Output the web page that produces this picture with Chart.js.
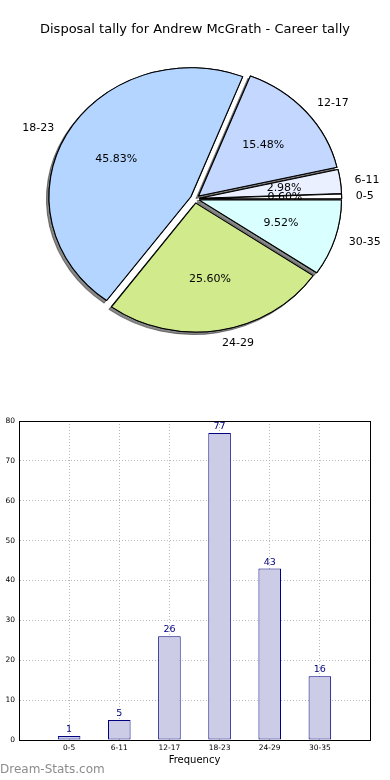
<!DOCTYPE html>
<html>
<head>
<meta charset="utf-8">
<script src="https://cdn.jsdelivr.net/npm/chart.js@4/dist/chart.umd.min.js"></script>
<style>
  html, body { margin: 0; padding: 0; background: #fff; }
  body { width: 390px; height: 780px; position: relative; overflow: hidden; }
  #pie { position: absolute; left: 0; top: 0; }
  #bar { position: absolute; left: 0; top: 400px; }
  .mark { position: absolute; left: 0; top: 762px; font: 12px "DejaVu Sans", sans-serif; color: #8c8c8c; }
</style>
</head>
<body>
<canvas id="pie" width="390" height="400"></canvas>
<canvas id="bar" width="390" height="380"></canvas>
<div class="mark">Dream-Stats.com</div>
<script>
const groups = ["0-5", "6-11", "12-17", "18-23", "24-29", "30-35"];
const tally = [1, 5, 26, 77, 43, 16];
const sliceColors = ["#ffffff", "#eaf0ff", "#c4d8ff", "#b3d5ff", "#d0ea8c", "#d9ffff"];

Chart.defaults.font.family = "'DejaVu Sans', sans-serif";
Chart.defaults.color = "#000";

const STRETCH = 1.1; // the original pie is a bit wider than tall
const EXPLODE = 4.3; // every slice pulled out a little

const total = tally.reduce((a, b) => a + b, 0);

// pie look: explode, oval, shadow, labels
const pieLook = {
  id: "pieLook",
  afterUpdate(chart) {
    const a = chart.chartArea;
    const cx = (a.left + a.right) / 2, cy = (a.top + a.bottom) / 2;
    chart.getDatasetMeta(0).data.forEach((arc) => {
      const mid = (arc.startAngle + arc.endAngle) / 2;
      arc.x = cx + Math.cos(mid) * EXPLODE;
      arc.y = cy + Math.sin(mid) * EXPLODE;
    });
  },
  beforeDatasetsDraw(chart) {
    const ctx = chart.ctx, a = chart.chartArea;
    const cx = (a.left + a.right) / 2, cy = (a.top + a.bottom) / 2;
    ctx.save();
    ctx.translate(cx, cy);
    ctx.scale(STRETCH, 1);
    ctx.translate(-cx, -cy);
    // shadow pass first, then the normal draw covers the inner part
    ctx.save();
    ctx.shadowColor = "rgba(40,40,40,0.55)";
    ctx.shadowOffsetX = -2.5;
    ctx.shadowOffsetY = 2.5;
    ctx.shadowBlur = 0;
    chart.getDatasetMeta(0).data.forEach((arc) => arc.draw(ctx));
    ctx.restore();
  },
  afterDatasetsDraw(chart) {
    const ctx = chart.ctx, a = chart.chartArea;
    ctx.restore();
    const cx = (a.left + a.right) / 2;
    const ds = chart.data.datasets[0];
    ctx.save();
    ctx.font = "11px 'DejaVu Sans'";
    ctx.fillStyle = "#000";
    ctx.textBaseline = "middle";
    chart.getDatasetMeta(0).data.forEach((arc, i) => {
      const mid = (arc.startAngle + arc.endAngle) / 2;
      const cos = Math.cos(mid), sin = Math.sin(mid);
      const ox = cx + (arc.x - cx) * STRETCH, oy = arc.y;
      const r = arc.outerRadius;
      const pct = (ds.data[i] / total * 100).toFixed(2) + "%";
      ctx.textAlign = "center";
      ctx.fillText(pct, ox + cos * 0.6 * r * STRETCH, oy + sin * 0.6 * r);
      ctx.textAlign = cos >= 0 ? "left" : "right";
      ctx.fillText(chart.data.labels[i], ox + cos * 1.1 * r * STRETCH, oy + sin * 1.1 * r);
    });
    ctx.restore();
  },
};

// matplotlib goes counter-clockwise from 3 o'clock, chart.js clockwise -> reverse
const pieChart = new Chart(document.getElementById("pie").getContext("2d"), {
  type: "pie",
  data: {
    labels: groups.slice().reverse(),
    datasets: [
      {
        data: tally.slice().reverse(),
        backgroundColor: sliceColors.slice().reverse(),
        borderColor: "#000",
        borderWidth: 1,
        borderJoinStyle: "round",
      },
    ],
  },
  options: {
    responsive: false,
    animation: false,
    events: [],
    rotation: 90,
    radius: 129,
    layout: { padding: { bottom: 47 } },
    plugins: {
      legend: { display: false },
      tooltip: { enabled: false },
      title: {
        display: true,
        text: "Disposal tally for Andrew McGrath - Career tally",
        font: { size: 13, weight: "normal" },
        color: "#000",
        padding: { top: 22, bottom: 7 },
      },
    },
  },
  plugins: [pieLook],
});

// numbers above bars + closed frame
const barExtras = {
  id: "barExtras",
  afterDatasetsDraw(chart) {
    const ctx = chart.ctx;
    const ds = chart.data.datasets[0];
    ctx.save();
    ctx.font = "9.5px 'DejaVu Sans'";
    ctx.fillStyle = "#000080";
    ctx.textAlign = "center";
    ctx.textBaseline = "alphabetic";
    chart.getDatasetMeta(0).data.forEach((bar, i) => {
      if (ds.data[i] == null) return;
      ctx.fillText(String(ds.data[i]), bar.x, bar.y - 4);
    });
    ctx.restore();
  },
  afterDraw(chart) {
    const ctx = chart.ctx, a = chart.chartArea;
    ctx.save();
    ctx.strokeStyle = "#000";
    ctx.lineWidth = 1;
    ctx.strokeRect(Math.round(a.left) + 0.5, Math.round(a.top) + 0.5,
      Math.round(a.right - a.left), Math.round(a.bottom - a.top));
    ctx.restore();
  },
};

// empty slot at each end, like the original x range
const barLabels = ["", ...groups, ""];
const barValues = [null, ...tally, null];

const barChart = new Chart(document.getElementById("bar").getContext("2d"), {
  type: "bar",
  data: {
    labels: barLabels,
    datasets: [
      {
        data: barValues,
        backgroundColor: "#ccccE6",
        borderColor: "#000080",
        borderWidth: 1,
        borderSkipped: false,
        barPercentage: 0.45,
        categoryPercentage: 1,
      },
    ],
  },
  options: {
    responsive: false,
    animation: false,
    events: [],
    layout: { padding: { top: 21, right: 20, left: 0, bottom: 0 } },
    plugins: {
      legend: { display: false },
      tooltip: { enabled: false },
    },
    scales: {
      x: {
        offset: false,
        z: 1,
        grid: { color: "#b8b8b8", drawTicks: false, offset: false },
        border: { color: "#000", dash: [1, 2] },
        ticks: { font: { size: 7.5 }, padding: 4, maxRotation: 0, autoSkip: false, color: "#000" },
        title: {
          display: true,
          text: "Frequency",
          font: { size: 10 },
          color: "#000",
          padding: { top: 0, bottom: 14 },
        },
        afterFit(scale) {
          scale.height = 40;
        },
      },
      y: {
        min: 0,
        max: 80,
        z: 1,
        grid: { color: "#b8b8b8", drawTicks: false },
        border: { color: "#000", dash: [1, 2] },
        ticks: { stepSize: 10, font: { size: 7.5 }, padding: 4, color: "#000" },
        afterFit(scale) {
          scale.width = 19;
        },
      },
    },
  },
  plugins: [barExtras],
});
</script>
</body>
</html>
